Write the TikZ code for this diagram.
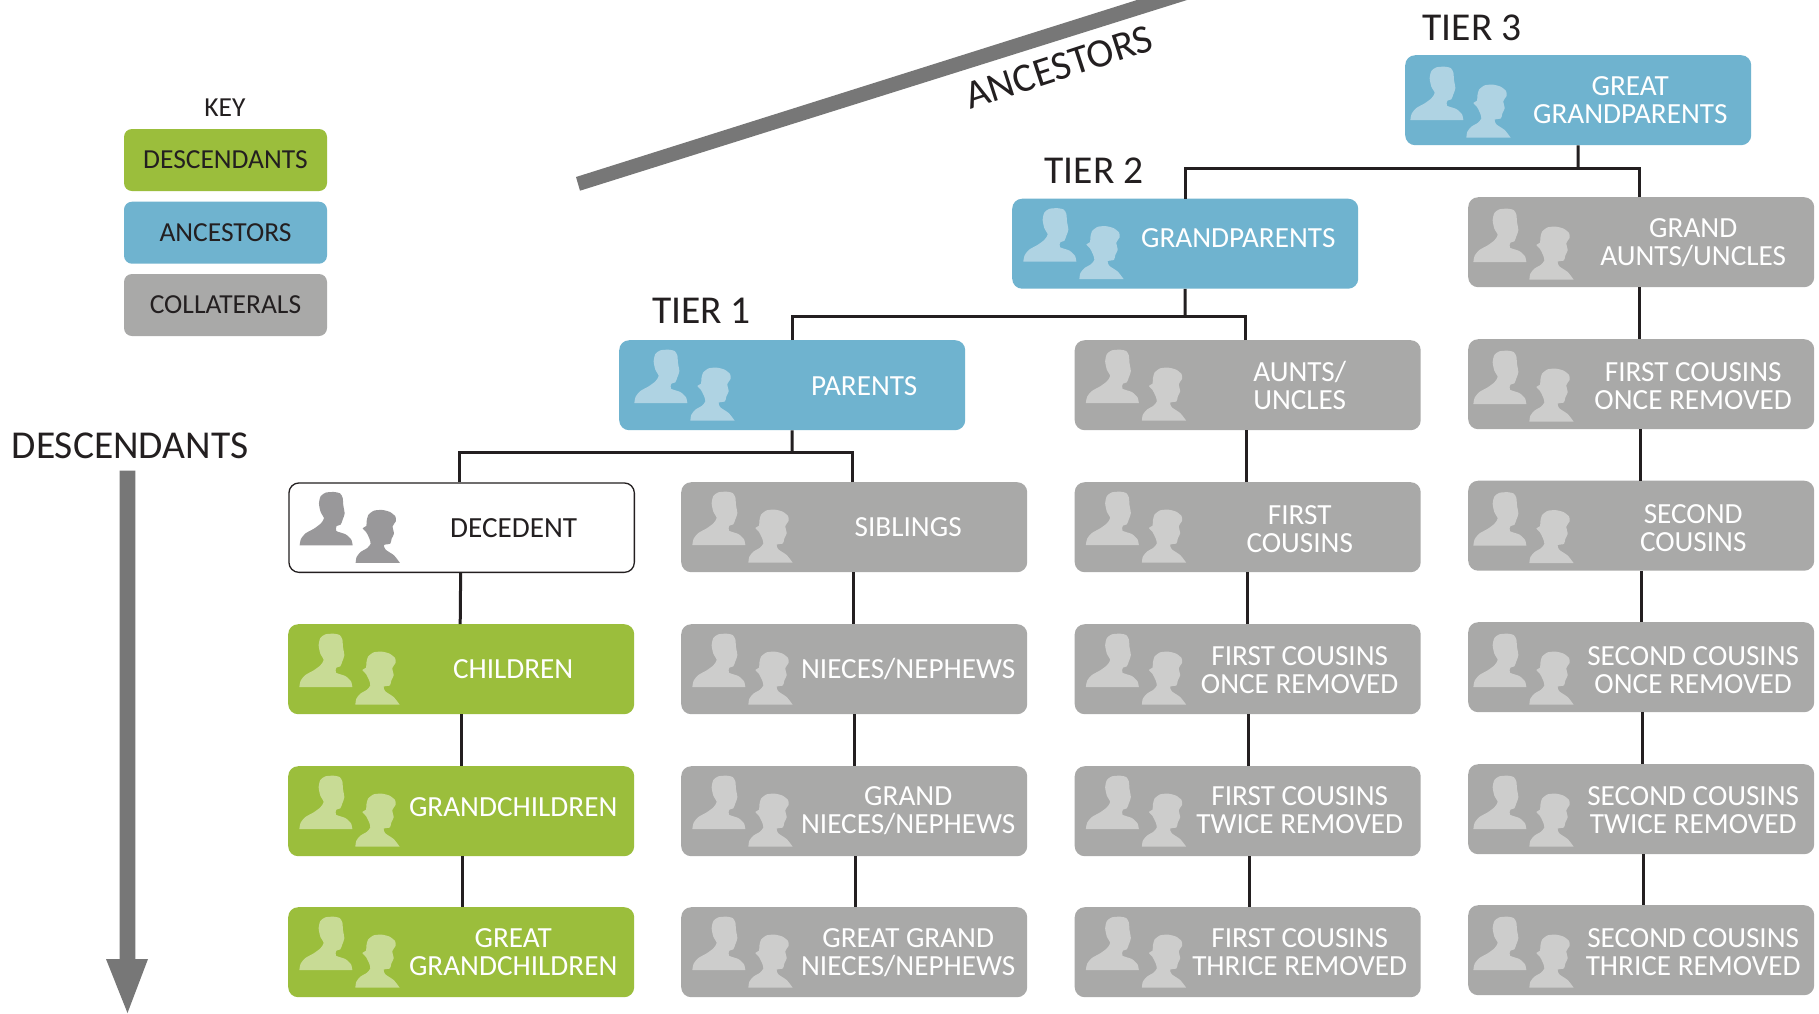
\documentclass[tikz,border=0pt]{standalone}
\usepackage{fontspec}
\setmainfont{Carlito}
\definecolor{inkc}{HTML}{231F20}
\definecolor{greenbox}{HTML}{9BBE3C}
\definecolor{greenicon}{HTML}{C8DB95}
\definecolor{bluebox}{HTML}{6FB3CF}
\definecolor{blueicon}{HTML}{AFD3E3}
\definecolor{graybox}{HTML}{A9A9A8}
\definecolor{grayicon}{HTML}{CDCDCC}
\definecolor{whiteicon}{HTML}{99989A}
\definecolor{greentext}{HTML}{FFFFFF}
\definecolor{bluetext}{HTML}{FFFFFF}
\definecolor{graytext}{HTML}{FFFFFF}
\definecolor{arrowgray}{HTML}{777777}
\tikzset{
  famnode/.style={rectangle,rounded corners=10pt,minimum width=346pt,minimum height=90pt,inner sep=0pt,anchor=north west,draw=none},
  famtext/.style={align=center,inner sep=0pt,font=\fontsize{29.2}{28}\selectfont},
  keytext/.style={inner sep=0pt,text=inkc,font=\fontsize{27.5}{28}\selectfont},
  keynode/.style={keytext,rectangle,rounded corners=8pt,minimum width=203pt,minimum height=62pt},
  bigtext/.style={inner sep=0pt,text=inkc,font=\fontsize{39.5}{40}\selectfont},
  link/.style={draw=inkc,line width=3pt},
  people/.pic={
    \begin{scope}[scale=1/3,shift={(-53,-66)}]
      \fill[pic actions] plot[smooth,tension=.4] coordinates {(87,255)(91,236)(105,219)(130,205)(150,190)(160,174)(150,155)(145,130)(150,108)(165,97)(190,95)(208,99)(216,112)(218,135)(222,160)(216,178)(210,193)(198,197)(197,212)(225,222)(242,238)(246,255)} -- cycle;
      \fill[pic actions] plot[smooth,tension=.4] coordinates {(255,308)(258,290)(270,275)(290,263)(300,250)(296,234)(287,216)(276,204)(287,197)(288,183)(293,164)(310,151)(335,149)(358,155)(374,168)(376,182)(366,198)(370,220)(363,235)(359,250)(340,254)(345,268)(370,285)(388,308)} -- cycle;
    \end{scope}
  }
}
% name, colour, x, y, text dx, text dy, icon dx, icon dy, text
\newcommand\familybox[9]{%
  \node[famnode,fill=#2box] (#1) at (#3,#4) {};
  \pic[fill=#2icon] at ([shift={(#7,#8)}]#1.north west) {people};
  \node[famtext,text=#2text] (#1T) at ([shift={(#5,#6)}]#1.center) {#9};
}
\begin{document}
\begin{tikzpicture}[x=1pt,y=-1pt]
\useasboundingbox (0,0) rectangle (1819,1013);
\fill[white] (0,0) rectangle (1819,1013);

% key
\node[keytext] (keyT) at (225,107.5) {KEY};
\node[keynode,fill=greenbox] (keyA) at (225.5,160) {\raisebox{1pt}{DESCENDANTS}};
\node[keynode,fill=bluebox] (keyB) at (225.5,232.7) {\raisebox{1pt}{ANCESTORS}};
\node[keynode,fill=graybox] (keyC) at (225.5,305) {COLLATERALS};

% axes
\node[bigtext] (descT) at (130,445.5) {DESCENDANTS};
\fill[arrowgray] (119.7,470.7) -- (135.3,470.7) -- (135.3,959) -- (148,959) -- (127.5,1013) -- (106,959) -- (119.7,959) -- cycle;
\fill[arrowgray] (576,177) -- (1137,0) -- (1187,0) -- (580,190.7) -- cycle;
\node[bigtext,rotate=18,font=\fontsize{40.5}{40}\selectfont] (ancT) at (1059,67) {ANCESTORS};

% tier labels
\node[bigtext] (t3) at (1472,27.5) {TIER 3};
\node[bigtext] (t2) at (1094,171) {TIER 2};
\node[bigtext] (t1) at (701.5,311) {TIER 1};

% ancestors
\familybox{ggp}{blue}{1405}{55}{52}{0}{-6}{2}{GREAT\\GRANDPARENTS}
\familybox{gp}{blue}{1012}{198.5}{53}{-5.5}{0}{0}{GRANDPARENTS}
\familybox{par}{blue}{619}{340}{72}{1}{4}{0}{PARENTS}

% column 1
\node[famnode,fill=white,draw=inkc,line width=1.3pt,minimum width=345.4pt,minimum height=89.4pt] (dec) at (288.3,482.3) {};
\pic[fill=whiteicon] at (dec.north west) {people};
\node[famtext,text=inkc] (decT) at ([shift={(52,0)}]dec.center) {DECEDENT};
\familybox{chi}{green}{288}{624}{52}{0}{0}{0}{CHILDREN}
\familybox{gch}{green}{288}{766}{52}{-4}{0}{0}{GRANDCHILDREN}
\familybox{ggc}{green}{288}{907}{52}{0}{0}{0}{GREAT\\GRANDCHILDREN}

% column 2
\familybox{sib}{gray}{681}{482}{54}{0}{0}{0}{SIBLINGS}
\familybox{nie}{gray}{681}{624}{54}{0}{0}{0}{NIECES/NEPHEWS}
\familybox{gne}{gray}{681}{766}{54}{-1}{0}{0}{GRAND\\NIECES/NEPHEWS}
\familybox{ggn}{gray}{681}{907}{54}{0}{0}{0}{GREAT GRAND\\NIECES/NEPHEWS}

% column 3
\familybox{aun}{gray}{1074.5}{340}{52}{0}{0}{0}{AUNTS/\\UNCLES}
\familybox{fc}{gray}{1074.5}{482}{52}{2}{0}{0}{FIRST\\COUSINS}
\familybox{fco}{gray}{1074.5}{624}{52}{1}{0}{0}{FIRST COUSINS\\ONCE REMOVED}
\familybox{fct}{gray}{1074.5}{766}{52}{-1}{0}{0}{FIRST COUSINS\\TWICE REMOVED}
\familybox{fcr}{gray}{1074.5}{907}{52}{0}{0}{0}{FIRST COUSINS\\THRICE REMOVED}

% column 4
\familybox{gau}{gray}{1468}{197}{52}{0}{-6}{2}{GRAND\\AUNTS/UNCLES}
\familybox{cfo}{gray}{1468}{339}{52}{2}{-6}{2}{FIRST COUSINS\\ONCE REMOVED}
\familybox{sc}{gray}{1468}{480.5}{52}{2}{-6}{2}{SECOND\\COUSINS}
\familybox{sco}{gray}{1468}{622}{52}{3}{-6}{2}{SECOND COUSINS\\ONCE REMOVED}
\familybox{sct}{gray}{1468}{764}{52}{1}{-6}{2}{SECOND COUSINS\\TWICE REMOVED}
\familybox{scr}{gray}{1468}{905}{52}{2}{-6}{2}{SECOND COUSINS\\THRICE REMOVED}

% connectors
\coordinate (busC) at (1578,168.7);
\coordinate (busB) at (1185,316);
\coordinate (busA) at (792,452);
\draw[link] (ggp.south) -- (busC);
\draw[link] (gp.north) |- (busC);
\draw[link] ([xshift=-2pt]gau.north) |- (busC);
\draw[link] (gp.south) -- (busB);
\draw[link] (par.north) |- (busB);
\draw[link] ([xshift=-2pt]aun.north) |- (busB);
\draw[link] (par.south) -- (busA);
\draw[link] ([xshift=-2pt]dec.north) |- (busA);
\draw[link] ([xshift=-2pt]sib.north) |- (busA);
\draw[link] ([xshift=-1pt]dec.south) -- ([xshift=-1pt]chi.north);
\draw[link] (chi.south) -- (gch.north);
\draw[link] ([xshift=1pt]gch.south) -- ([xshift=1pt]ggc.north);
\draw[link] ([xshift=-1pt]sib.south) -- ([xshift=-1pt]nie.north);
\draw[link] (nie.south) -- (gne.north);
\draw[link] ([xshift=1pt]gne.south) -- ([xshift=1pt]ggn.north);
\draw[link] ([xshift=-1pt]aun.south) -- ([xshift=-1pt]fc.north);
\draw[link] (fc.south) -- (fco.north);
\draw[link] ([xshift=1pt]fco.south) -- ([xshift=1pt]fct.north);
\draw[link] ([xshift=2pt]fct.south) -- ([xshift=2pt]fcr.north);
\draw[link] ([xshift=-2pt]gau.south) -- ([xshift=-2pt]cfo.north);
\draw[link] ([xshift=-1pt]cfo.south) -- ([xshift=-1pt]sc.north);
\draw[link] (sc.south) -- (sco.north);
\draw[link] ([xshift=1pt]sco.south) -- ([xshift=1pt]sct.north);
\draw[link] ([xshift=2pt]sct.south) -- ([xshift=2pt]scr.north);
\end{tikzpicture}
\end{document}
